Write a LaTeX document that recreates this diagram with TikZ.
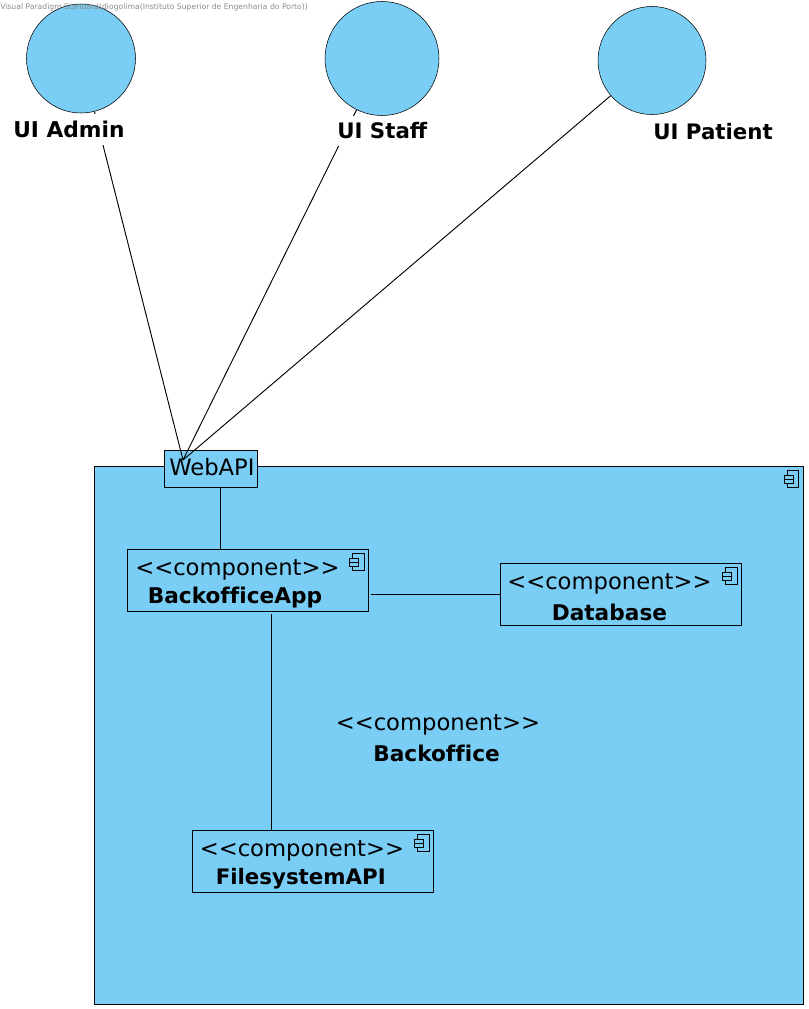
\documentclass[tikz,border=0pt]{standalone}
\usepackage{fontspec}
\setmainfont{DejaVu Sans}
\definecolor{vpblue}{RGB}{122,206,245}
\newcommand{\stereotxt}{<\kern0pt<component>\kern0pt>}
\tikzset{
  x=0.75pt,y=-0.75pt,
  line width=0.8pt,
  iface/.style={circle,draw=black,fill=vpblue,inner sep=0pt},
  compbox/.style={draw=black,fill=vpblue,rectangle,inner sep=0pt,anchor=north west},
  stereo/.style={anchor=west,inner sep=0pt,font=\fontsize{17}{17}\selectfont},
  cname/.style={anchor=west,inner sep=0pt,font=\fontsize{16.25}{17}\bfseries\selectfont},
  uilabel/.style={anchor=west,fill=white,inner sep=0pt,minimum height=23pt,font=\fontsize{16}{17}\bfseries\selectfont},
  wire/.style={draw=black,line width=0.7pt},
  compicon/.pic={
    \draw[black,line width=0.6pt,fill=vpblue] (-16,4.7) rectangle (-4.7,21.5);
    \draw[black,line width=0.6pt,fill=vpblue] (-19,9) rectangle (-10.3,13.2);
    \draw[black,line width=0.6pt,fill=vpblue] (-19,13.2) rectangle (-10.3,17.5);
  }
}
\begin{document}
\begin{tikzpicture}
\useasboundingbox (0,0) rectangle (808,1009);
\fill[white] (0,0) rectangle (808,1009);

% provided interfaces
\node[iface,minimum size=81.75pt] (admin) at (81,58.5) {};
\node[iface,minimum size=85.5pt] (staff) at (382,58.5) {};
\node[iface,minimum size=81pt] (patient) at (652,60.5) {};

% outer component
\node[compbox,minimum width=531.75pt,minimum height=403.6pt] (backoffice) at (94,466) {};
\pic at (backoffice.north east) {compicon};

% port
\node[compbox,minimum width=69.75pt,minimum height=27.4pt] (webapi) at (164,450) {};
\coordinate (apipoint) at (183,460);
\node[anchor=west,inner sep=0pt,font=\fontsize{17}{18}\selectfont] (webapitext) at (169,467.5) {WebAPI};

% inner components
\node[compbox,minimum width=181.2pt,minimum height=46.5pt] (app) at (126.7,549) {};
\pic at (app.north east) {compicon};
\node[compbox,minimum width=181.2pt,minimum height=46.5pt] (db) at (499.7,563) {};
\pic at (db.north east) {compicon};
\node[compbox,minimum width=181.2pt,minimum height=46.5pt] (fs) at (191.7,830) {};
\pic at (fs.north east) {compicon};

% connectors
\draw[wire] (admin) -- (apipoint);
\draw[wire] (staff) -- (apipoint);
\draw[wire] (patient) -- (apipoint);
\coordinate (wtop) at (220.5,487.5);
\coordinate (wbot) at (220.5,549);
\draw[wire] (wtop) -- (wbot);
\coordinate (ar) at (371,594.5);
\coordinate (dl) at (500,594.5);
\draw[wire] (ar) -- (dl);
\coordinate (abot) at (271.5,614);
\coordinate (ftop) at (271.5,830);
\draw[wire] (abot) -- (ftop);

% labels
\node[uilabel,font=\fontsize{16.3}{17}\bfseries\selectfont] (ladmin) at (13,129.5) {UI Admin};
\node[uilabel] (lstaff) at (337,131) {UI Staff};
\node[uilabel] (lpatient) at (653,131.5) {UI Patient};

\node[stereo] (s1) at (135,569.5) {\stereotxt};
\node[cname] (n1) at (147.5,598) {Backof\kern0ptf\kern0ptice\kern0ptApp};
\node[stereo] (s2) at (507,583.5) {\stereotxt};
\node[cname] (n2) at (551.5,612) {Database};
\node[stereo] (s3) at (199.5,850.5) {\stereotxt};
\node[cname,font=\fontsize{16}{17}\bfseries\selectfont] (n3) at (215.5,879) {FilesystemAPI};
\node[stereo] (s4) at (335.5,724.5) {\stereotxt};
\node[cname] (n4) at (373,753) {Backof\kern0ptf\kern0ptice};

\node[anchor=west,inner sep=0pt,text=black!45,font=\fontsize{5.75}{6}\selectfont] (wm) at (0,7) {Visual Paradigm Standard(diogolima(Instituto Superior de Engenharia do Porto))};
\end{tikzpicture}
\end{document}
